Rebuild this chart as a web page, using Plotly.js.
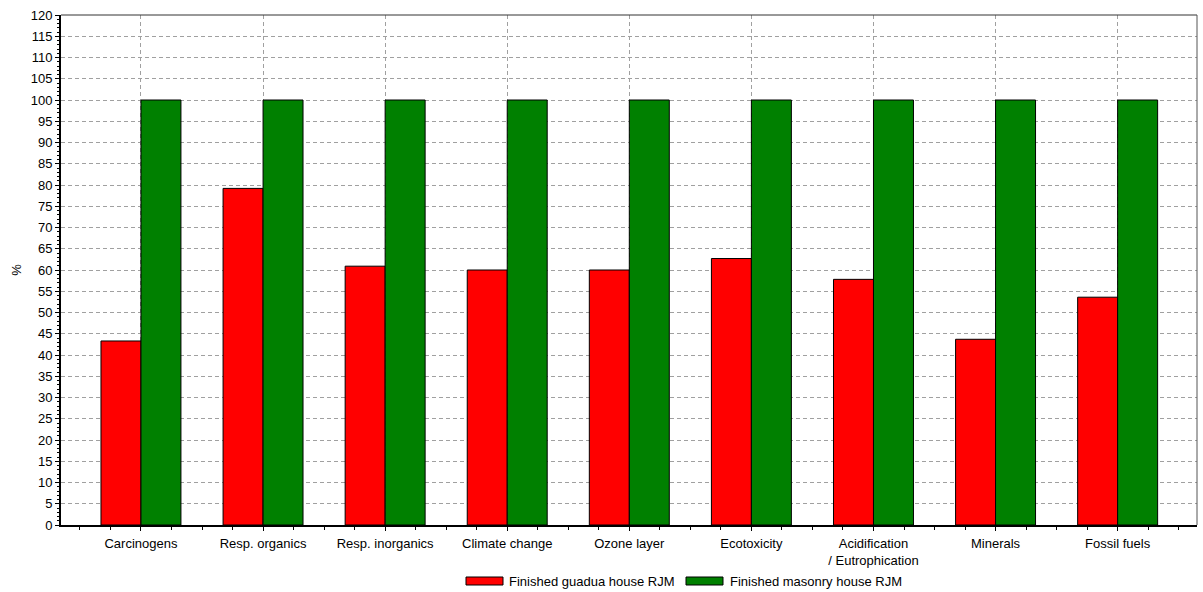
<!DOCTYPE html>
<html>
<head>
<meta charset="utf-8">
<script src="https://cdn.plot.ly/plotly-3.0.1.min.js"></script>
<style>html,body{margin:0;padding:0;background:#fff;}#chart{width:1203px;height:592px;}</style>
</head>
<body>
<div id="chart"></div>
<script>
const categories = ["Carcinogens", "Resp. organics", "Resp. inorganics", "Climate change", "Ozone layer", "Ecotoxicity", "Acidification<br>/ Eutrophication", "Minerals", "Fossil fuels"];
const guaduaValues = [43.3, 79.2, 60.9, 60.0, 60.0, 62.7, 57.8, 43.7, 53.6];
const masonryValues = [100, 100, 100, 100, 100, 100, 100, 100, 100];
const seriesNames = ["Finished guadua house RJM", "Finished masonry house RJM"];
const seriesColors = ["#ff0000", "#008000"];
const yTicks = [0,5,10,15,20,25,30,35,40,45,50,55,60,65,70,75,80,85,90,95,100,105,110,115,120];

const xPos = categories.map((c, i) => i);
const font = {family: "Liberation Sans, Arial, sans-serif", size: 13, color: "#000"};

const traces = [
  {type: "bar", name: seriesNames[0], x: xPos, y: guaduaValues,
   marker: {color: seriesColors[0], line: {color: "#000", width: 1}}},
  {type: "bar", name: seriesNames[1], x: xPos, y: masonryValues,
   marker: {color: seriesColors[1], line: {color: "#000", width: 1}}}
];

// manual legend (wide swatches like the reference)
const W = 1203, H = 592;
const legendItems = [
  {x0: 466, x1: 503, tx: 507},
  {x0: 686, x1: 723, tx: 728}
];
const shapes = [
  {type: "line", xref: "paper", yref: "paper", x0: 0, x1: 1, y0: 1, y1: 1, line: {color: "#333", width: 1}},
  {type: "line", xref: "paper", yref: "paper", x0: 1, x1: 1, y0: 0, y1: 1, line: {color: "#555", width: 1}}
];
const annotations = [];
legendItems.forEach((it, i) => {
  shapes.push({type: "rect", xref: "paper", yref: "paper",
    x0: (it.x0 - 61) / 1136, x1: (it.x1 - 61) / 1136,
    y0: (525 - 585) / 510, y1: (525 - 577) / 510,
    fillcolor: seriesColors[i], line: {color: "#000", width: 1}});
  annotations.push({xref: "paper", yref: "paper", x: (it.tx - 61) / 1136, y: (525 - 581) / 510,
    xanchor: "left", yanchor: "middle", text: seriesNames[i], showarrow: false, font: font});
});

const layout = {
  width: W, height: H,
  margin: {l: 61, r: 6, t: 15, b: 67},
  paper_bgcolor: "#fff", plot_bgcolor: "#fff",
  font: font,
  barmode: "group", bargap: 0.345, bargroupgap: 0,
  showlegend: false,
  xaxis: {
    range: [-0.655, 8.65], tickvals: xPos, ticktext: categories,
    showgrid: true, gridcolor: "#a0a0a0", griddash: "4px,3px", gridwidth: 1,
    showline: true, linecolor: "#000", linewidth: 2, mirror: false,
    ticks: "outside", ticklen: 4, tickcolor: "#000", tickwidth: 1,
    minor: {dtick: 0.25, tick0: 0, ticks: "outside", ticklen: 3, tickcolor: "#000", showgrid: false},
    zeroline: false, automargin: false, tickfont: font, ticklabelstandoff: 1
  },
  yaxis: {
    range: [0, 120], tickvals: yTicks, ticktext: yTicks.map(String),
    showgrid: true, gridcolor: "#a0a0a0", griddash: "4px,3px", gridwidth: 1,
    showline: true, linecolor: "#000", linewidth: 2,
    ticks: "outside", ticklen: 4, tickcolor: "#000",
    minor: {dtick: 1, ticks: "outside", ticklen: 2, tickcolor: "#000", showgrid: false},
    zeroline: false, automargin: false, tickfont: font,
    title: {text: "%", font: font, standoff: 6}
  },
  shapes: shapes,
  annotations: annotations
};

Plotly.newPlot("chart", traces, layout, {staticPlot: true, displayModeBar: false});
</script>
</body>
</html>
